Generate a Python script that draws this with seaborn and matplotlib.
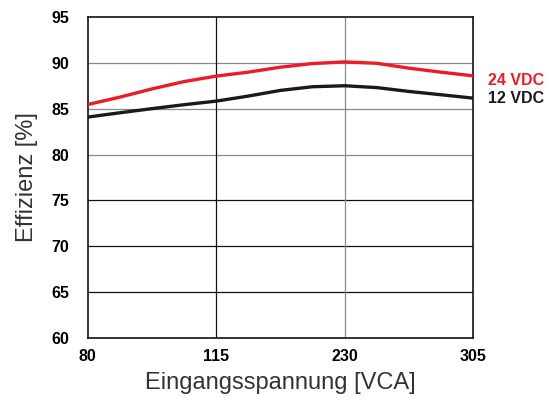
import matplotlib
matplotlib.use("Agg")
import matplotlib.pyplot as plt
import matplotlib.transforms as mtransforms
import seaborn as sns
import pandas as pd

# Input voltage categories (equally spaced on the axis)
voltage_labels = ["80", "115", "230", "305"]

# Curve samples at quarter steps between categories (0 = 80 V ... 3 = 305 V)
positions = [0, 0.25, 0.5, 0.75, 1, 1.25, 1.5, 1.75, 2, 2.25, 2.5, 2.75, 3]
eff_24vdc = [85.45, 86.25, 87.15, 87.95, 88.55, 88.98, 89.52, 89.92,
             90.1, 89.95, 89.42, 88.98, 88.58]
eff_12vdc = [84.08, 84.55, 85.0, 85.43, 85.82, 86.37, 86.99, 87.39,
             87.5, 87.3, 86.88, 86.52, 86.15]

series_names = ["24 VDC", "12 VDC"]
series_colors = {"24 VDC": "#ED1C24", "12 VDC": "#1A1A1A"}

y_ticks = [60, 65, 70, 75, 80, 85, 90, 95]

df = pd.concat([
    pd.DataFrame({"pos": positions, "eff": eff_24vdc, "Ausgang": "24 VDC"}),
    pd.DataFrame({"pos": positions, "eff": eff_12vdc, "Ausgang": "12 VDC"}),
])

sns.set_theme(style="white")
plt.rcParams["font.family"] = ["Liberation Sans", "DejaVu Sans"]

fig = plt.figure(figsize=(5.47, 3.99), dpi=100)
ax = fig.add_axes([0.16, 0.153, 0.7047, 0.8045])

sns.lineplot(data=df, x="pos", y="eff", hue="Ausgang", palette=series_colors,
             hue_order=series_names, linewidth=2.4, legend=False, ax=ax,
             zorder=5, sort=True)
for ln in ax.get_lines():
    ln.set_solid_joinstyle("round")
    ln.set_solid_capstyle("butt")

ax.set_xlim(0, len(voltage_labels) - 1)
ax.set_ylim(y_ticks[0], y_ticks[-1])
ax.set_xticks(range(len(voltage_labels)))
ax.set_xticklabels(voltage_labels)
ax.set_yticks(y_ticks)
ax.set_yticklabels([str(t) for t in y_ticks])

# Grid lines: darker in the lower band, lighter grey near the curves
for t in y_ticks[1:-1]:
    col = "#111111" if t < 80 else "#8a8a8a"
    ax.axhline(t, color=col, linewidth=0.9, zorder=1)
for i, col in zip([1, 2], ["#111111", "#8a8a8a"]):
    ax.axvline(i, color=col, linewidth=0.9, zorder=1)

for s in ax.spines.values():
    s.set_visible(True)
    s.set_color("#111111")
    s.set_linewidth(1.2)

ax.tick_params(axis="both", length=0, labelsize=11.5, colors="black")
ax.tick_params(axis="y", pad=13)
ax.tick_params(axis="x", pad=8)
for lab in ax.get_xticklabels() + ax.get_yticklabels():
    lab.set_fontweight("bold")

ax.set_xlabel("Eingangsspannung [VCA]", fontsize=17, color="#333333", labelpad=6)
ax.set_ylabel("Effizienz [%]", fontsize=17, color="#333333", labelpad=10)

# End-of-line series labels
trans = mtransforms.blended_transform_factory(ax.transAxes, ax.transData)
ends = {"24 VDC": eff_24vdc[-1] - 0.5, "12 VDC": eff_12vdc[-1]}
for name in series_names:
    ax.text(1.04, ends[name], name, transform=trans, color=series_colors[name],
            fontsize=11.5, fontweight="bold", va="center", ha="left")

fig.savefig("out.png", dpi=100)
